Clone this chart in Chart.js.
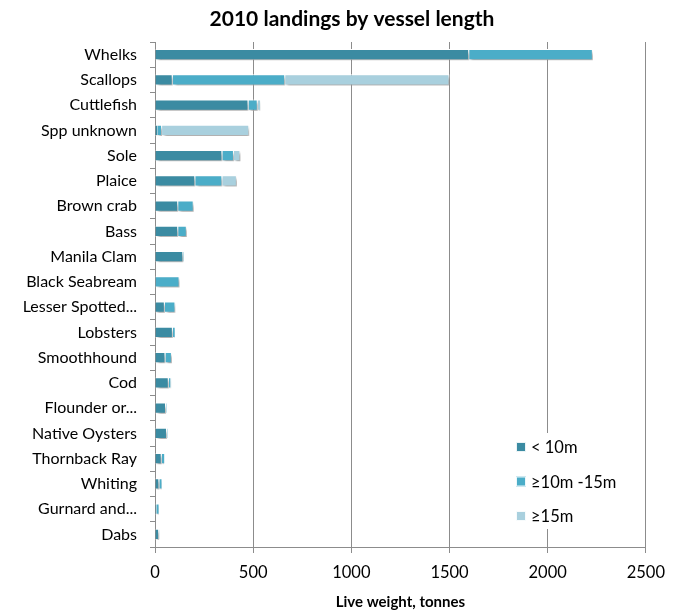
<!DOCTYPE html>
<html>
<head>
<meta charset="utf-8">
<script src="https://cdn.jsdelivr.net/npm/chart.js@4.4.1/dist/chart.umd.min.js"></script>
<style>
  html, body { margin: 0; padding: 0; background: #fff; }
  #wrap { width: 675px; height: 612px; }
</style>
</head>
<body>
<div id="wrap"><canvas id="c" width="675" height="612"></canvas></div>
<script>
// Species, top to bottom
const species = [
  'Whelks', 'Scallops', 'Cuttlefish', 'Spp unknown', 'Sole', 'Plaice',
  'Brown crab', 'Bass', 'Manila Clam', 'Black Seabream', 'Lesser Spotted...',
  'Lobsters', 'Smoothhound', 'Cod', 'Flounder or...', 'Native Oysters',
  'Thornback Ray', 'Whiting', 'Gurnard and...', 'Dabs'
];

// Live weight landed (tonnes) by vessel length class
const under10m = [1600, 90, 476, 12, 343, 205, 118, 118, 144, 0, 50, 91, 53, 70, 56, 61, 34, 22, 7, 21];
const from10to15m = [630, 573, 47, 24, 59, 138, 79, 44, 3, 125, 54, 10, 33, 9, 3, 3, 12, 12, 12, 1];
const over15m = [0, 837, 13, 444, 33, 74, 0, 0, 0, 0, 0, 0, 0, 4, 0, 0, 3, 2, 2, 2];

const seriesNames = ['< 10m', '\u226510m -15m', '\u226515m'];
const xTicks = [0, 500, 1000, 1500, 2000, 2500];
const chartTitle = '2010 landings by vessel length';

const colors = ['#3b8ba2', '#4badc8', '#a9d0de'];
const FONT = 'Lato, "Open Sans", sans-serif';

// Soft drop shadow under the bar segments
const barShadow = {
  id: 'barShadow',
  beforeDatasetsDraw(chart) {
    const ctx = chart.ctx;
    ctx.save();
    ctx.shadowColor = 'rgba(0,0,0,0.35)';
    ctx.shadowBlur = 3;
    ctx.shadowOffsetX = 2;
    ctx.shadowOffsetY = 3;
  },
  afterDatasetsDraw(chart) {
    chart.ctx.restore();
  }
};

// Title drawn slightly right of the canvas centre, above the plot
const headTitle = {
  id: 'headTitle',
  afterDraw(chart) {
    const ctx = chart.ctx;
    ctx.save();
    ctx.font = 'bold 21px ' + FONT;
    ctx.fillStyle = '#000';
    ctx.textAlign = 'center';
    ctx.textBaseline = 'middle';
    ctx.fillText(chartTitle, 352, 19);
    ctx.restore();
  }
};

// Legend box placed inside the plot, lower right
const innerLegend = {
  id: 'innerLegend',
  afterDraw(chart) {
    const ctx = chart.ctx;
    const x0 = 505, y0 = 433, w = 125, h = 96;
    ctx.save();
    ctx.fillStyle = '#fff';
    ctx.fillRect(x0, y0, w, h);
    ctx.font = '16.5px ' + FONT;
    ctx.textBaseline = 'middle';
    ctx.textAlign = 'left';
    chart.data.datasets.forEach((ds, i) => {
      const cy = 447 + i * 34.5;
      ctx.fillStyle = ds.backgroundColor;
      ctx.fillRect(516, cy - 5, 10, 10);
      ctx.strokeStyle = 'rgba(255,255,255,0.9)';
      ctx.lineWidth = 1;
      ctx.strokeRect(516.5, cy - 4.5, 9, 9);
      ctx.fillStyle = '#000';
      ctx.fillText(ds.label, 531, cy + 1);
    });
    ctx.restore();
  }
};

// White separator on the right of a segment only when it is wide enough to carry one
function segmentBorder(ctx) {
  const v = ctx.raw || 0;
  return { top: 1, bottom: 1, left: 0, right: v >= 15 ? 1 : 0 };
}

const seriesData = [under10m, from10to15m, over15m];

new Chart(document.getElementById('c'), {
  type: 'bar',
  data: {
    labels: species,
    datasets: seriesData.map((d, i) => ({
      label: seriesNames[i],
      data: d,
      backgroundColor: colors[i],
      borderColor: '#ffffff',
      borderWidth: segmentBorder,
      borderSkipped: false,
      categoryPercentage: 1,
      barPercentage: 0.44
    }))
  },
  options: {
    indexAxis: 'y',
    responsive: false,
    animation: false,
    devicePixelRatio: 1,
    layout: { padding: { left: 5, right: 14, top: 42, bottom: 0 } },
    plugins: {
      legend: { display: false },
      tooltip: { enabled: false },
      title: { display: false }
    },
    scales: {
      x: {
        stacked: true,
        min: 0,
        max: 2500,
        afterBuildTicks(scale) {
          scale.ticks = xTicks.map(v => ({ value: v }));
        },
        afterFit(scale) { scale.height = 65; },
        grid: {
          color: '#8c8c8c',
          lineWidth: 1,
          tickLength: 6,
          drawTicks: true
        },
        border: { color: '#8c8c8c', width: 1 },
        ticks: {
          color: '#000',
          font: { family: FONT, size: 16.5 },
          padding: 10,
          maxRotation: 0,
          callback: v => String(v)
        },
        title: {
          display: true,
          text: 'Live weight, tonnes',
          color: '#000',
          font: { family: FONT, size: 15, weight: 'bold' },
          padding: { top: 4, bottom: 1 }
        }
      },
      y: {
        stacked: true,
        afterFit(scale) { scale.width = 150; },
        grid: {
          display: true,
          offset: true,
          drawOnChartArea: false,
          color: '#8c8c8c',
          tickLength: 5
        },
        border: { color: '#8c8c8c', width: 1 },
        ticks: {
          color: '#000',
          font: { family: FONT, size: 16 },
          padding: 13,
          autoSkip: false
        }
      }
    }
  },
  plugins: [barShadow, innerLegend, headTitle]
});
</script>
</body>
</html>
